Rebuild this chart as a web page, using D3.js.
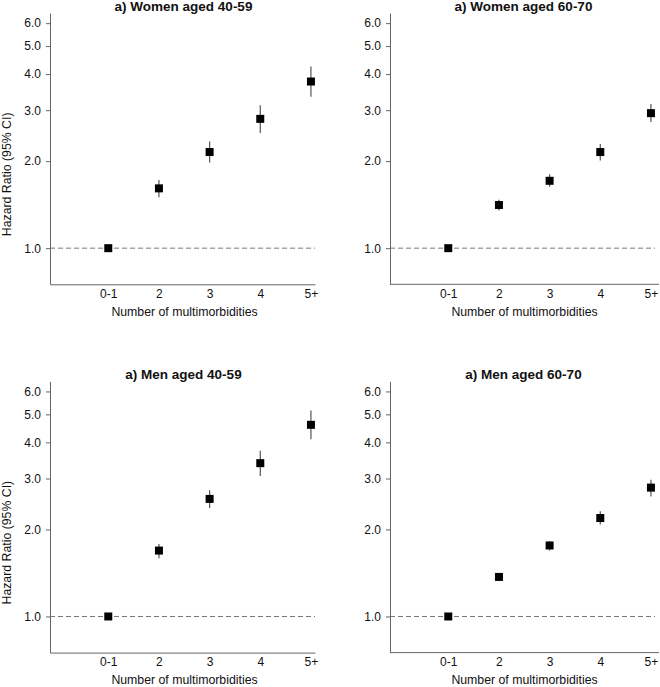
<!DOCTYPE html>
<html>
<head>
<meta charset="utf-8">
<script src="https://cdn.jsdelivr.net/npm/d3@7"></script>
<style>
  body { margin: 0; background: #fff; }
  svg text { font-family: 'Liberation Sans', Arial, sans-serif; }
  .axis path, .axis line { stroke: #666; }
  .axis text { fill: #111; font-size: 12px; }
</style>
</head>
<body>
<script>
const categories = ['0-1', '2', '3', '4', '5+']
const yTicks = [1, 2, 3, 4, 5, 6]

const panelTitles = [
  'a) Women aged 40-59',
  'a) Women aged 60-70',
  'a) Men aged 40-59',
  'a) Men aged 60-70'
]

// hazard ratio, lower CI, upper CI for each panel
const womenYoungHR = [1.0, 1.61, 2.15, 2.8, 3.77]
const womenYoungLo = [1.0, 1.5, 1.98, 2.5, 3.34]
const womenYoungHi = [1.0, 1.72, 2.34, 3.12, 4.25]

const womenOldHR = [1.0, 1.41, 1.71, 2.15, 2.93]
const womenOldLo = [1.0, 1.35, 1.63, 2.01, 2.73]
const womenOldHi = [1.0, 1.47, 1.8, 2.29, 3.15]

const menYoungHR = [1.0, 1.69, 2.55, 3.39, 4.6]
const menYoungLo = [1.0, 1.59, 2.37, 3.06, 4.1]
const menYoungHi = [1.0, 1.78, 2.73, 3.74, 5.16]

const menOldHR = [1.0, 1.37, 1.76, 2.19, 2.79]
const menOldLo = [1.0, 1.33, 1.69, 2.08, 2.6]
const menOldHi = [1.0, 1.4, 1.82, 2.31, 2.97]

const panels = [
  { title: panelTitles[0], hr: womenYoungHR, lo: womenYoungLo, hi: womenYoungHi, ox: 0, oy: 0, yLabel: true },
  { title: panelTitles[1], hr: womenOldHR, lo: womenOldLo, hi: womenOldHi, ox: 340, oy: 0, yLabel: false },
  { title: panelTitles[2], hr: menYoungHR, lo: menYoungLo, hi: menYoungHi, ox: 0, oy: 368.3, yLabel: true },
  { title: panelTitles[3], hr: menOldHR, lo: menOldLo, hi: menOldHi, ox: 340, oy: 368.3, yLabel: false }
]

const width = 660
const height = 687
const axisLeft = 50
const axisRight = 315
const axisBottom = 284.3

const svg = d3.select('body')
  .append('svg')
  .attr('width', width)
  .attr('height', height)

const x = d3.scaleLinear().domain([-1.15, 4.08]).range([axisLeft, axisRight])
const y = d3.scaleLog().domain([0.75, 6.5]).range([axisBottom, 13.1])

panels.forEach((p) => {
  const g = svg.append('g').attr('transform', `translate(${p.ox},${p.oy})`)
  const rows = categories.map((c, i) => ({ i, hr: p.hr[i], lo: p.lo[i], hi: p.hi[i] }))

  // Title
  g.append('text')
    .attr('x', (axisLeft + axisRight) / 2 + 1)
    .attr('y', 11)
    .attr('text-anchor', 'middle')
    .style('font-size', '13.5px')
    .style('font-weight', 'bold')
    .attr('fill', '#111')
    .text(p.title)

  // Reference line at HR = 1
  g.append('line')
    .attr('x1', axisLeft)
    .attr('x2', axisRight)
    .attr('y1', y(1))
    .attr('y2', y(1))
    .attr('stroke', '#777')
    .attr('stroke-width', 1)
    .attr('stroke-dasharray', '5,3')

  // Y axis
  g.append('g')
    .attr('class', 'axis')
    .attr('transform', `translate(${axisLeft},0)`)
    .call(d3.axisLeft(y).tickValues(yTicks).tickFormat(d3.format('.1f')).tickSize(4).tickSizeOuter(0).tickPadding(5))

  // X axis
  const xAxis = g.append('g')
    .attr('class', 'axis')
    .attr('transform', `translate(0,${axisBottom})`)
    .call(d3.axisBottom(x).tickValues(d3.range(categories.length)).tickFormat((d) => categories[d]).tickSize(0).tickSizeOuter(0).tickPadding(5))
  if (p.ox > 0) xAxis.select('.domain').attr('d', `M${axisLeft},0H${width - p.ox - 1}`)

  // X label
  g.append('text')
    .attr('x', (axisLeft + axisRight) / 2 + 2)
    .attr('y', 316)
    .attr('text-anchor', 'middle')
    .style('font-size', '12.3px')
    .attr('fill', '#111')
    .text('Number of multimorbidities')

  if (p.yLabel) {
    g.append('text')
      .attr('transform', `translate(11,${y(1.8)}) rotate(-90)`)
      .attr('text-anchor', 'middle')
      .style('font-size', '12.3px')
      .attr('fill', '#111')
      .text('Hazard Ratio (95% CI)')
  }

  // Confidence intervals
  g.append('g')
    .selectAll('line')
    .data(rows)
    .enter()
    .append('line')
    .attr('x1', (d) => x(d.i))
    .attr('x2', (d) => x(d.i))
    .attr('y1', (d) => y(d.lo))
    .attr('y2', (d) => y(d.hi))
    .attr('stroke', '#555')
    .attr('stroke-width', 1.2)

  // Point estimates
  g.append('g')
    .selectAll('rect')
    .data(rows)
    .enter()
    .append('rect')
    .attr('x', (d) => x(d.i) - 4)
    .attr('y', (d) => y(d.hr) - 4)
    .attr('width', 8)
    .attr('height', 8)
    .attr('fill', '#000')
})
</script>
</body>
</html>
